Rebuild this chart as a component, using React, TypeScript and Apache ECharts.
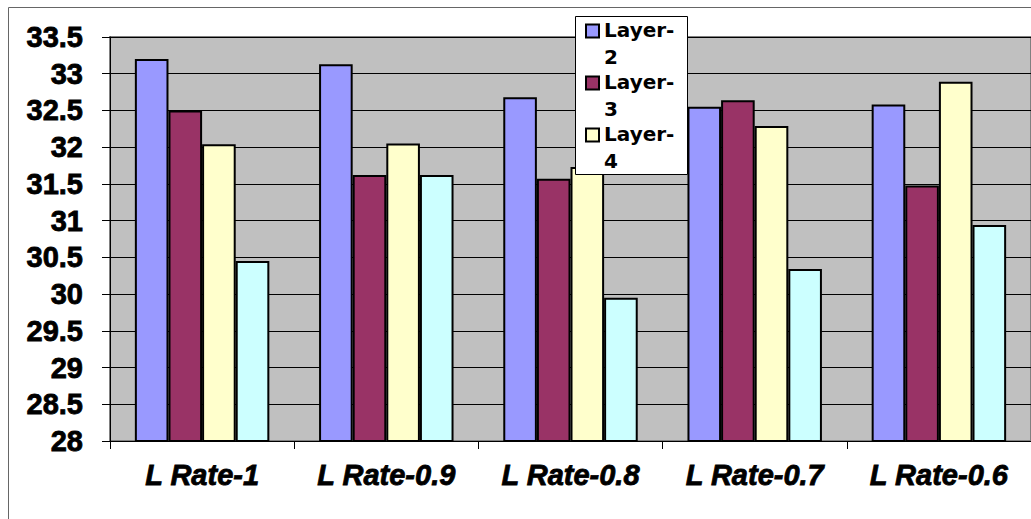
import React, { useEffect, useRef } from "react";
import * as echarts from "echarts";

// Categories along the x axis
const categories = ["L Rate-1", "L Rate-0.9", "L Rate-0.8", "L Rate-0.7", "L Rate-0.6"];

// Series names and values
const seriesNames = ["Layer-2", "Layer-3", "Layer-4", "Layer-5"];
const layer2 = [33.2, 33.13, 32.68, 32.55, 32.58];
const layer3 = [32.5, 31.62, 31.57, 32.64, 31.48];
const layer4 = [32.04, 32.05, 31.73, 32.29, 32.89];
const layer5 = [30.45, 31.62, 29.95, 30.34, 30.94];
const seriesValues = [layer2, layer3, layer4, layer5];
const seriesColors = ["#9999FF", "#993366", "#FFFFCC", "#CCFFFF"];

// Y axis range
const yMin = 28;
const yMax = 33.5;
const yStep = 0.5;

// Number of entries shown in the legend box
const legendCount = 3;

export default function App() {
  const ref = useRef<HTMLDivElement>(null);

  useEffect(() => {
    if (!ref.current) return;
    const chart = echarts.init(ref.current, null, { renderer: "svg" });

    const legendX = 575.5;
    const legendY = 16.5;
    const itemPitch = 52;
    const legendElements: any[] = [
      {
        type: "rect",
        shape: { x: legendX, y: legendY, width: 112, height: 158 },
        style: { fill: "#ffffff", stroke: "#000000", lineWidth: 1 },
        z: 100,
      },
    ];
    for (let i = 0; i < legendCount; i++) {
      const cy = 31 + i * itemPitch;
      legendElements.push({
        type: "rect",
        shape: { x: 586, y: cy - 6.5, width: 13, height: 13 },
        style: { fill: seriesColors[i], stroke: "#000000", lineWidth: 2 },
        z: 101,
      });
      legendElements.push({
        type: "text",
        x: 604,
        y: cy - 14.5,
        style: {
          text: seriesNames[i].replace("-", "-\n"),
          font: "bold 20px 'DejaVu Sans', sans-serif",
          lineHeight: 27,
          fill: "#000000",
          textVerticalAlign: "top",
        },
        z: 101,
      });
    }

    const labelFont = "'Liberation Sans', Arial, sans-serif";

    chart.setOption({
      animation: false,
      backgroundColor: "#ffffff",
      grid: {
        left: 110,
        top: 37,
        width: 924,
        height: 404,
        show: true,
        backgroundColor: "#C0C0C0",
        borderColor: "#808080",
        borderWidth: 2,
      },
      xAxis: {
        type: "category",
        data: categories,
        boundaryGap: true,
        axisLine: { show: true, lineStyle: { color: "#000000", width: 1 } },
        axisTick: { show: true, length: 8, lineStyle: { color: "#000000" } },
        axisLabel: {
          margin: 19,
          color: "#000000",
          fontFamily: labelFont,
          fontWeight: "bold",
          fontStyle: "italic",
          fontSize: 29,
          textBorderColor: "#000000",
          textBorderWidth: 0.8,
        },
      },
      yAxis: {
        type: "value",
        min: yMin,
        max: yMax,
        interval: yStep,
        axisLine: { show: true, lineStyle: { color: "#000000", width: 1 } },
        axisTick: { show: true, length: 8, lineStyle: { color: "#000000" } },
        axisLabel: {
          margin: 27,
          color: "#000000",
          fontFamily: labelFont,
          fontWeight: "bold",
          fontSize: 29,
          textBorderColor: "#000000",
          textBorderWidth: 0.8,
        },
        splitLine: { show: true, lineStyle: { color: "#000000", width: 1 } },
      },
      series: seriesValues.map((vals, i) => ({
        name: seriesNames[i],
        type: "bar",
        data: vals,
        barGap: "0%",
        barCategoryGap: "27%",
        itemStyle: { color: seriesColors[i], borderColor: "#000000", borderWidth: 2 },
      })),
      graphic: [
        {
          type: "rect",
          shape: { x: 8.5, y: 7.5, width: 1100, height: 600 },
          style: { fill: "none", stroke: "#666666", lineWidth: 1 },
          z: 50,
          silent: true,
        },
        ...legendElements,
      ],
    });

    return () => chart.dispose();
  }, []);

  return (
    <div
      ref={ref}
      style={{ position: "absolute", left: 0, top: 0, width: 1031, height: 519, background: "#fff" }}
    />
  );
}
